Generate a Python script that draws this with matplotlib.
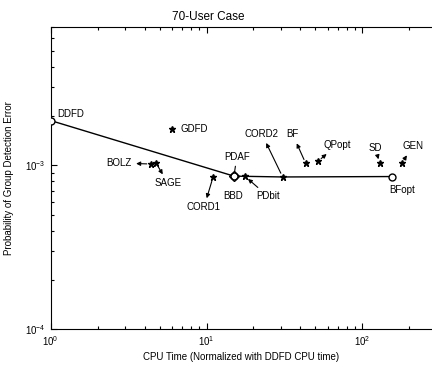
import matplotlib
matplotlib.use("Agg")
import matplotlib.pyplot as plt
from matplotlib.ticker import LogLocator, NullFormatter

# data
names = ["DDFD", "GDFD", "BOLZ", "SAGE", "CORD1", "BBD", "PDAF", "PDbit",
         "CORD2", "BF", "QPopt", "SD", "GEN", "BFopt"]
cpu_time = [1.0, 6.0, 4.4, 4.75, 11.0, 15.0, 15.0, 17.6,
            30.8, 43.3, 51.9, 129.0, 179.0, 154.0]
p_error = [1.88e-3, 1.66e-3, 1.02e-3, 1.03e-3, 8.45e-4, 8.6e-4, 8.6e-4, 8.6e-4,
           8.5e-4, 1.03e-3, 1.06e-3, 1.03e-3, 1.03e-3, 8.55e-4]
markers = ["o", "*", "*", "*", "*", "o", "D", "*",
           "*", "*", "*", "*", "*", "o"]

# best trade-off curve
front = ["DDFD", "BBD", "CORD2", "BFopt"]

# label placement (offset in points, alignment, arrow style or None)
layout = {
    "DDFD":  ((4.5, 5.0), "left", None),
    "GDFD":  ((5.8, 0.0), "left", None),
    "BOLZ":  ((-13.7, 0.7), "right", "<|-"),
    "SAGE":  ((8.6, -14.4), "center", "<|-"),
    "CORD1": ((-6.5, -21.6), "center", "<|-"),
    "BBD":   ((-0.7, -14.4), "center", None),
    "PDAF":  ((2.0, 13.7), "center", "-"),
    "PDbit": ((16.6, -14.4), "center", "-|>"),
    "CORD2": ((-15.0, 31.0), "center", "<|-"),
    "BF":    ((-9.4, 20.9), "center", "<|-"),
    "QPopt": ((13.7, 11.5), "center", "<|-"),
    "SD":    ((-2.9, 10.8), "center", "-|>"),
    "GEN":   ((7.9, 12.2), "center", "<|-"),
    "BFopt": ((7.9, -10.0), "center", None),
}

plt.rcParams["font.family"] = ["Liberation Sans", "DejaVu Sans"]

fig = plt.figure(figsize=(4.32, 3.67), dpi=100)
ax = fig.add_axes([0.1174, 0.1035, 0.8826, 0.8225])

fx = [cpu_time[names.index(n)] for n in front]
fy = [p_error[names.index(n)] for n in front]
ax.plot(fx, fy, "-", color="black", lw=1.0, zorder=2)

for n, x, y, m in zip(names, cpu_time, p_error, markers):
    if m == "o":
        ax.plot(x, y, m, ms=5, mfc="white", mec="black", mew=1.0, zorder=3)
    elif m == "D":
        ax.plot(x, y, m, ms=5, mfc="none", mec="black", mew=1.0, zorder=4)
    else:
        ax.plot(x, y, m, ms=5, color="black", zorder=3)

for n, x, y in zip(names, cpu_time, p_error):
    off, ha, style = layout[n]
    props = None
    if style is not None:
        props = dict(arrowstyle=style, color="black", lw=0.8,
                     shrinkA=1, shrinkB=3, mutation_scale=6)
    ax.annotate(n, xy=(x, y), xytext=off, textcoords="offset points",
                ha=ha, va="center", fontsize=7, arrowprops=props)

ax.set_xscale("log")
ax.set_yscale("log")
ax.set_xlim(1, 280)
ax.set_ylim(1e-4, 7e-3)
ax.yaxis.set_major_locator(LogLocator(base=10, numticks=10))
ax.yaxis.set_minor_locator(LogLocator(base=10, subs=range(2, 10), numticks=10))
ax.yaxis.set_minor_formatter(NullFormatter())
ax.xaxis.set_minor_formatter(NullFormatter())
ax.tick_params(which="both", direction="in", top=True, right=False,
               labelsize=7, width=0.8)
ax.tick_params(which="major", length=4)
ax.tick_params(which="minor", length=2)
ax.spines["right"].set_visible(False)

ax.set_title("70-User Case", fontsize=8.5, x=0.4125, pad=5)
ax.set_xlabel("CPU Time (Normalized with DDFD CPU time)", fontsize=7, labelpad=3)
ax.set_ylabel("Probability of Group Detection Error", fontsize=7, labelpad=8)

fig.savefig("out.png", dpi=100)
